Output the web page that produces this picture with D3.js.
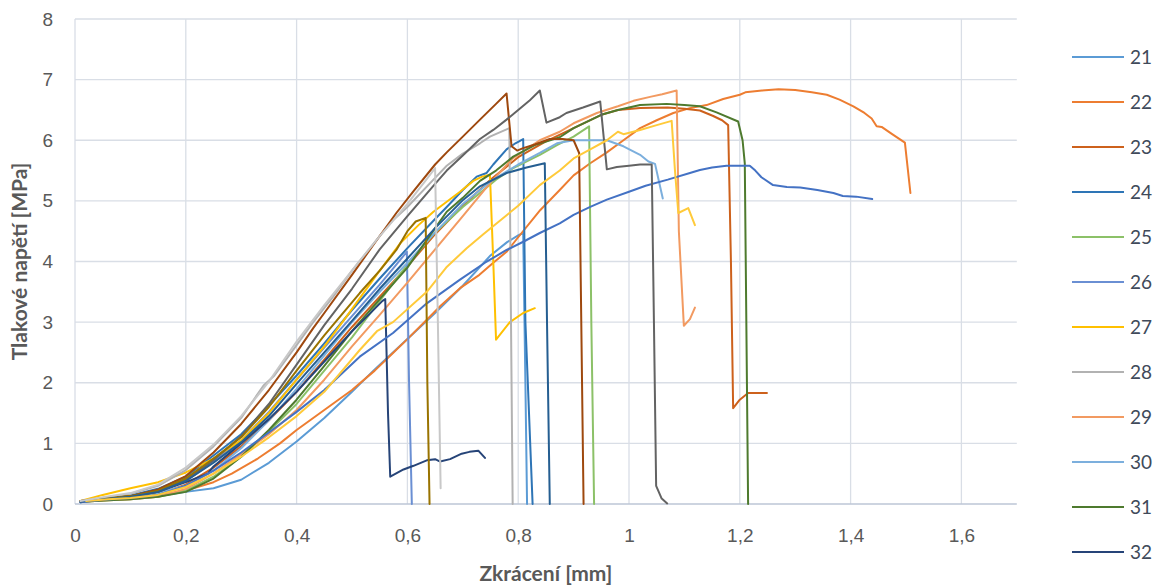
<!DOCTYPE html>
<html>
<head>
<meta charset="utf-8">
<script src="https://cdn.jsdelivr.net/npm/d3@7"></script>
<style>
  body { margin: 0; background: #ffffff; }
  svg { display: block; font-family: Lato, "Open Sans", "Liberation Sans", sans-serif; }
</style>
</head>
<body>
<svg id="chart" width="1168" height="587"></svg>
<script>
// Compression tests: stress [MPa] vs. shortening [mm] per specimen
const seriesNames  = ["21", "22", "23", "24", "25", "26", "27", "28", "29", "30", "31", "32",
                      "33", "34", "35", "36", "37", "38", "39"];
const seriesColors = ["#5B9BD5", "#ED7D31", "#CD611C", "#2E75B6", "#8CC168", "#6A8FD3", "#FFC000", "#B2B2B2",
                      "#F29A61", "#7CAFDD", "#4E7A2E", "#264478",
                      "#4472C4", "#9E480E", "#636363", "#997300", "#255E91", "#FFCA3A", "#C8C8C8"];

const s21 = [[0.01,0.03],[0.03,0.07],[0.06,0.08],[0.1,0.1],[0.15,0.13],[0.2,0.2],[0.25,0.26],[0.3,0.4],[0.35,0.68],[0.4,1.03],[0.45,1.42],[0.5,1.85],[0.541,2.22],[0.6,2.72],[0.65,3.15],[0.7,3.6],[0.75,4.1],[0.78,4.32],[0.8,4.43],[0.809,4.47],[0.813,2.0],[0.816,0]];
const s22 = [[0.01,0.04],[0.04,0.08],[0.1,0.1],[0.15,0.14],[0.2,0.22],[0.25,0.36],[0.283,0.5],[0.33,0.75],[0.37,1.0],[0.4,1.22],[0.45,1.55],[0.5,1.88],[0.541,2.2],[0.574,2.49],[0.6,2.72],[0.635,3.04],[0.66,3.27],[0.695,3.56],[0.73,3.78],[0.755,3.98],[0.779,4.16],[0.8,4.4],[0.84,4.85],[0.875,5.18],[0.9,5.42],[0.93,5.62],[0.96,5.8],[0.99,6.0],[1.02,6.2],[1.05,6.33],[1.08,6.45],[1.11,6.53],[1.14,6.58],[1.17,6.68],[1.2,6.75],[1.21,6.79],[1.24,6.82],[1.27,6.84],[1.3,6.83],[1.33,6.79],[1.357,6.75],[1.38,6.67],[1.405,6.56],[1.425,6.45],[1.438,6.36],[1.447,6.23],[1.456,6.22],[1.475,6.1],[1.498,5.96],[1.508,5.13]];
const s23 = [[0.02,0.05],[0.06,0.07],[0.1,0.1],[0.15,0.16],[0.2,0.32],[0.25,0.6],[0.3,0.95],[0.35,1.38],[0.4,1.85],[0.45,2.38],[0.5,2.92],[0.55,3.42],[0.6,3.92],[0.65,4.45],[0.7,4.92],[0.75,5.35],[0.8,5.72],[0.85,5.98],[0.9,6.2],[0.95,6.42],[0.98,6.5],[1.02,6.53],[1.07,6.54],[1.1,6.52],[1.128,6.49],[1.152,6.4],[1.168,6.33],[1.179,6.25],[1.184,4.0],[1.188,1.58],[1.2,1.72],[1.215,1.83],[1.249,1.83]];
const s24 = [[0.01,0.03],[0.05,0.09],[0.1,0.14],[0.15,0.25],[0.2,0.45],[0.25,0.8],[0.3,1.15],[0.35,1.62],[0.4,2.12],[0.45,2.65],[0.5,3.2],[0.55,3.72],[0.6,4.22],[0.65,4.7],[0.671,4.9],[0.7,5.18],[0.725,5.4],[0.743,5.46],[0.755,5.6],[0.779,5.85],[0.795,5.95],[0.809,6.02],[0.813,3.0],[0.826,0]];
const s25 = [[0.02,0.04],[0.06,0.06],[0.1,0.08],[0.15,0.12],[0.2,0.22],[0.25,0.45],[0.3,0.78],[0.35,1.2],[0.4,1.65],[0.45,2.2],[0.5,2.75],[0.55,3.35],[0.6,3.95],[0.65,4.48],[0.7,4.9],[0.731,5.13],[0.76,5.35],[0.791,5.54],[0.839,5.76],[0.87,5.92],[0.9,6.06],[0.928,6.23],[0.932,3.0],[0.937,0]];
const s26 = [[0.01,0.04],[0.05,0.08],[0.1,0.12],[0.15,0.2],[0.2,0.38],[0.25,0.7],[0.3,1.05],[0.35,1.52],[0.4,2.05],[0.45,2.58],[0.5,3.1],[0.55,3.62],[0.58,3.95],[0.599,4.16],[0.603,2.0],[0.608,0]];
const s27 = [[0.01,0.05],[0.03,0.1],[0.05,0.15],[0.1,0.26],[0.15,0.36],[0.2,0.52],[0.25,0.75],[0.3,1.05],[0.35,1.5],[0.4,2.05],[0.45,2.6],[0.49,3.09],[0.55,3.85],[0.587,4.3],[0.62,4.6],[0.647,4.82],[0.695,5.15],[0.719,5.33],[0.735,5.4],[0.749,5.43],[0.755,4.0],[0.76,2.71],[0.785,3.0],[0.809,3.15],[0.83,3.23]];
const s28 = [[0.01,0.05],[0.05,0.1],[0.1,0.17],[0.15,0.3],[0.2,0.56],[0.25,0.95],[0.3,1.42],[0.34,1.95],[0.36,2.12],[0.4,2.62],[0.43,3.0],[0.466,3.42],[0.5,3.85],[0.55,4.42],[0.575,4.69],[0.6,4.9],[0.65,5.38],[0.671,5.58],[0.7,5.78],[0.731,5.95],[0.749,6.06],[0.779,6.18],[0.784,6.2],[0.787,3.0],[0.79,0]];
const s29 = [[0.02,0.04],[0.06,0.06],[0.1,0.08],[0.15,0.12],[0.2,0.25],[0.25,0.5],[0.3,0.82],[0.35,1.15],[0.4,1.55],[0.45,2.05],[0.5,2.6],[0.55,3.12],[0.6,3.65],[0.65,4.2],[0.7,4.75],[0.75,5.3],[0.79,5.7],[0.839,6.0],[0.875,6.14],[0.9,6.28],[0.942,6.45],[0.98,6.56],[1.008,6.65],[1.04,6.72],[1.06,6.76],[1.086,6.82],[1.09,4.5],[1.099,2.94],[1.11,3.05],[1.119,3.24]];
const s30 = [[0.01,0.04],[0.05,0.08],[0.1,0.12],[0.15,0.18],[0.2,0.3],[0.25,0.55],[0.3,0.92],[0.35,1.38],[0.4,1.9],[0.45,2.45],[0.5,3.0],[0.55,3.5],[0.6,3.98],[0.65,4.48],[0.7,4.95],[0.75,5.32],[0.8,5.6],[0.839,5.79],[0.87,5.95],[0.9,6.0],[0.96,6.0],[0.99,5.9],[1.02,5.76],[1.035,5.65],[1.047,5.61],[1.056,5.24],[1.061,5.04]];
const s31 = [[0.02,0.04],[0.06,0.06],[0.1,0.08],[0.15,0.12],[0.2,0.2],[0.25,0.42],[0.3,0.78],[0.35,1.22],[0.4,1.72],[0.45,2.28],[0.5,2.85],[0.55,3.38],[0.6,3.9],[0.65,4.55],[0.671,4.82],[0.7,5.05],[0.731,5.33],[0.76,5.5],[0.791,5.73],[0.83,5.92],[0.875,6.05],[0.9,6.2],[0.95,6.42],[0.98,6.5],[1.02,6.58],[1.068,6.6],[1.1,6.58],[1.128,6.56],[1.158,6.46],[1.197,6.31],[1.205,6.0],[1.209,5.62],[1.215,0]];
const s32 = [[0.01,0.04],[0.05,0.08],[0.1,0.12],[0.15,0.2],[0.2,0.36],[0.24,0.5],[0.25,0.62],[0.3,1.0],[0.35,1.4],[0.4,1.85],[0.45,2.35],[0.5,2.85],[0.53,3.12],[0.555,3.35],[0.56,3.38],[0.565,1.5],[0.569,0.45],[0.593,0.57],[0.611,0.63],[0.635,0.72],[0.65,0.74],[0.659,0.7],[0.677,0.74],[0.698,0.83],[0.712,0.86],[0.728,0.88],[0.74,0.76]];
const s33 = [[0.01,0.03],[0.05,0.07],[0.1,0.1],[0.15,0.15],[0.2,0.3],[0.25,0.55],[0.3,0.85],[0.35,1.18],[0.4,1.52],[0.45,1.88],[0.514,2.43],[0.574,2.82],[0.635,3.31],[0.695,3.7],[0.74,3.98],[0.779,4.19],[0.81,4.33],[0.839,4.47],[0.875,4.63],[0.9,4.77],[0.93,4.9],[0.96,5.02],[1.0,5.15],[1.03,5.25],[1.07,5.35],[1.11,5.46],[1.128,5.51],[1.15,5.55],[1.176,5.58],[1.218,5.58],[1.228,5.5],[1.239,5.39],[1.26,5.26],[1.285,5.23],[1.309,5.22],[1.34,5.18],[1.369,5.13],[1.386,5.08],[1.41,5.07],[1.439,5.03]];
const s34 = [[0.01,0.05],[0.05,0.08],[0.1,0.13],[0.15,0.24],[0.2,0.46],[0.25,0.85],[0.3,1.32],[0.35,1.88],[0.4,2.5],[0.43,2.9],[0.45,3.15],[0.5,3.78],[0.55,4.42],[0.58,4.8],[0.61,5.15],[0.65,5.6],[0.671,5.8],[0.7,6.06],[0.731,6.34],[0.76,6.6],[0.779,6.77],[0.788,5.9],[0.798,5.83],[0.809,5.87],[0.83,5.93],[0.857,6.02],[0.88,6.02],[0.9,6.0],[0.91,5.79],[0.918,0]];
const s35 = [[0.01,0.04],[0.05,0.08],[0.1,0.12],[0.15,0.2],[0.2,0.4],[0.25,0.72],[0.3,1.12],[0.35,1.65],[0.4,2.3],[0.45,2.95],[0.5,3.55],[0.55,4.2],[0.6,4.75],[0.65,5.28],[0.671,5.5],[0.7,5.75],[0.731,6.02],[0.755,6.17],[0.779,6.34],[0.8,6.5],[0.82,6.65],[0.839,6.82],[0.851,6.29],[0.875,6.38],[0.887,6.45],[0.917,6.54],[0.948,6.64],[0.96,5.52],[0.978,5.56],[1.0,5.58],[1.02,5.6],[1.041,5.6],[1.045,3.0],[1.049,0.3],[1.059,0.09],[1.069,0.01]];
const s36 = [[0.01,0.05],[0.05,0.09],[0.1,0.13],[0.15,0.22],[0.2,0.42],[0.25,0.75],[0.3,1.1],[0.35,1.6],[0.4,2.2],[0.45,2.78],[0.514,3.48],[0.55,3.85],[0.58,4.19],[0.6,4.5],[0.615,4.66],[0.633,4.72],[0.636,2.0],[0.64,0]];
const s37 = [[0.01,0.04],[0.05,0.08],[0.1,0.12],[0.15,0.2],[0.2,0.38],[0.25,0.68],[0.3,1.02],[0.35,1.45],[0.4,1.98],[0.45,2.5],[0.5,3.02],[0.55,3.55],[0.6,4.05],[0.65,4.55],[0.701,5.02],[0.731,5.24],[0.779,5.46],[0.815,5.55],[0.848,5.62],[0.852,3.0],[0.857,0]];
const s38 = [[0.02,0.05],[0.06,0.08],[0.1,0.1],[0.15,0.15],[0.2,0.28],[0.25,0.5],[0.3,0.78],[0.35,1.1],[0.4,1.45],[0.45,1.85],[0.514,2.54],[0.545,2.85],[0.574,3.0],[0.635,3.5],[0.67,3.9],[0.707,4.22],[0.737,4.45],[0.8,4.92],[0.839,5.26],[0.875,5.5],[0.9,5.7],[0.93,5.85],[0.96,6.0],[0.98,6.14],[0.99,6.1],[1.02,6.17],[1.05,6.25],[1.077,6.32],[1.083,5.5],[1.089,4.8],[1.107,4.88],[1.119,4.6]];
const s39 = [[0.01,0.05],[0.05,0.11],[0.1,0.18],[0.15,0.32],[0.2,0.6],[0.25,0.98],[0.3,1.45],[0.35,2.02],[0.4,2.68],[0.45,3.28],[0.5,3.85],[0.55,4.42],[0.6,4.95],[0.63,5.3],[0.65,5.54],[0.655,3.0],[0.66,0.26]];

const seriesValues = [s21, s22, s23, s24, s25, s26, s27, s28, s29, s30, s31, s32,
                      s33, s34, s35, s36, s37, s38, s39];

const xTicks = [0, 0.2, 0.4, 0.6, 0.8, 1.0, 1.2, 1.4, 1.6];
const yTicks = [0, 1, 2, 3, 4, 5, 6, 7, 8];
const xTitle = "Zkrácení [mm]";
const yTitle = "Tlakové napětí [MPa]";

// Czech number formatting (decimal comma)
const cz = d3.formatLocale({ decimal: ",", thousands: "\u00a0", grouping: [3], currency: ["", " Kč"] });
const fmt = cz.format("~g");

const W = 1168, H = 587;
const plot = { left: 75, right: 1016.8, top: 19, bottom: 504 };

const x = d3.scaleLinear().domain([0, 1.7]).range([plot.left, plot.right]);
const y = d3.scaleLinear().domain([0, 8]).range([plot.bottom, plot.top]);

const svg = d3.select("#chart");

// gridlines
const grid = svg.append("g").attr("stroke", "#D9DEE6").attr("stroke-width", 1.3);
grid.selectAll("line.h").data(yTicks.filter(d => d > 0)).join("line")
  .attr("x1", plot.left).attr("x2", plot.right)
  .attr("y1", d => y(d)).attr("y2", d => y(d));
grid.selectAll("line.v").data(xTicks).join("line")
  .attr("y1", plot.top).attr("y2", plot.bottom)
  .attr("x1", d => x(d)).attr("x2", d => x(d));

// bottom axis
const xAxis = d3.axisBottom(x).tickValues(xTicks).tickFormat(fmt).tickSize(0).tickPadding(25);
const gx = svg.append("g").attr("transform", `translate(0,${plot.bottom})`).call(xAxis);
gx.select(".domain").attr("stroke", "#BCC6D6").attr("stroke-width", 1.3)
  .attr("d", `M${plot.left},0H${plot.right}`);
gx.selectAll("text").attr("fill", "#595959").attr("font-size", 19);

// left axis (labels only)
const yAxis = d3.axisLeft(y).tickValues(yTicks).tickFormat(fmt).tickSize(0).tickPadding(22);
const gy = svg.append("g").attr("transform", `translate(${plot.left},0)`).call(yAxis);
gy.select(".domain").remove();
gy.selectAll("text").attr("fill", "#595959").attr("font-size", 19);

// curves
const line = d3.line().x(d => x(d[0])).y(d => y(d[1]));
const lines = svg.append("g").attr("fill", "none").attr("stroke-width", 2)
  .attr("stroke-linejoin", "round").attr("stroke-linecap", "round");
seriesValues.forEach((vals, i) => {
  lines.append("path").attr("d", line(vals)).attr("stroke", seriesColors[i]);
});

// axis titles
svg.append("text").attr("x", (plot.left + plot.right) / 2).attr("y", 581)
  .attr("text-anchor", "middle").attr("font-size", 21).attr("font-weight", "bold")
  .attr("fill", "#595959").text(xTitle);
svg.append("text").attr("transform", `translate(27,${(plot.top + plot.bottom) / 2}) rotate(-90)`)
  .attr("text-anchor", "middle").attr("font-size", 21).attr("font-weight", "bold")
  .attr("fill", "#595959").text(yTitle);

// legend: entries stacked at a fixed step, as many as fit in the chart height
const legend = svg.append("g");
const legStep = 45, legTop = 57;
seriesNames.forEach((name, i) => {
  const ly = legTop + i * legStep;
  if (ly > H - 20) return;
  const g = legend.append("g").attr("transform", `translate(0,${ly})`);
  g.append("line").attr("x1", 1072).attr("x2", 1124).attr("y1", 0).attr("y2", 0)
    .attr("stroke", seriesColors[i]).attr("stroke-width", 2);
  g.append("text").attr("x", 1130).attr("y", 0).attr("dy", "0.35em")
    .attr("font-size", 19).attr("fill", "#404A5A").text(name);
});
</script>
</body>
</html>
